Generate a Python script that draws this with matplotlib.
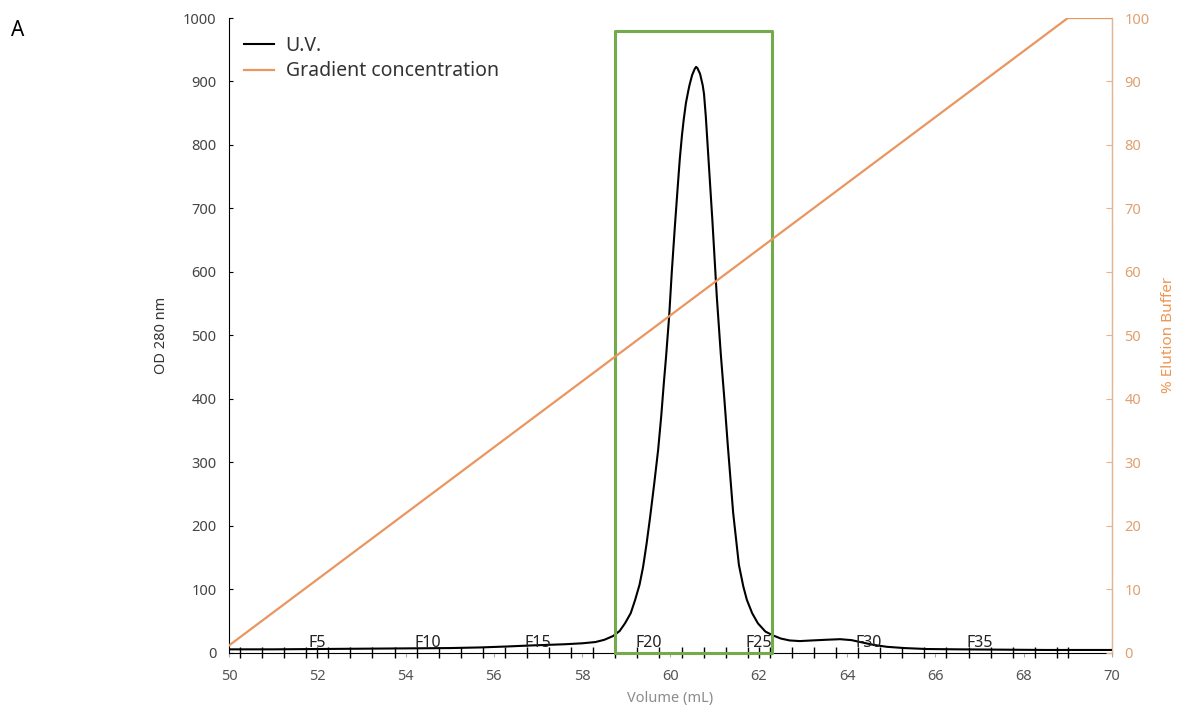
import matplotlib.pyplot as plt

plt.rcParams['font.family'] = ['Noto Sans', 'DejaVu Sans']

# UV trace (OD 280 nm)
volume_ml = [50.0, 51.0, 52.0, 53.0, 54.0, 55.0, 55.7, 56.3, 56.8, 57.2, 57.6, 58.0, 58.3,
             58.5, 58.7, 58.85, 58.97, 59.1, 59.2, 59.3, 59.38, 59.46, 59.54, 59.63, 59.72,
             59.79, 59.85, 59.9, 59.97, 60.03, 60.1, 60.16, 60.21, 60.26, 60.3, 60.35, 60.4,
             60.43, 60.49, 60.55, 60.58, 60.61, 60.67, 60.73, 60.76, 60.8, 60.85, 60.95,
             61.05, 61.14, 61.22, 61.3, 61.42, 61.55, 61.65, 61.73, 61.85, 61.98, 62.15,
             62.32, 62.5, 62.7, 62.93, 63.2, 63.5, 63.84, 64.1, 64.3, 64.6, 64.9, 65.3, 65.8,
             66.5, 67.5, 68.5, 70.0]
uv_od = [5, 5, 5.5, 6, 6.5, 7, 8, 9.5, 11, 12, 13, 14.5, 16.5,
         20, 26, 34, 46, 62, 83, 107, 135, 172, 214, 265, 319,
         372, 425, 466, 530, 600, 672, 730, 777, 815, 840, 866, 884,
         894, 910, 920, 923, 921, 912, 894, 880, 845, 790, 680,
         560, 470, 400, 325, 220, 138, 104, 83, 62, 46, 33,
         27, 22, 19, 18, 19, 20, 21, 19.5, 16.5, 12, 9, 7, 5.5,
         5, 4.5, 4, 4]

# gradient program (% elution buffer)
grad_volume = [50.0, 69.0, 70.0]
grad_pct = [1.1, 100.0, 100.0]

# fraction collector marks
fraction_marks = [50.25, 50.75, 51.25, 51.75, 52.0, 52.25, 52.75, 53.25, 53.75, 54.25, 54.75,
                  55.25, 55.75, 56.25, 56.75, 57.25, 57.75, 58.25, 58.75, 59.25, 59.75, 60.25,
                  60.75, 61.25, 61.75, 62.0, 62.25, 62.75, 63.25, 63.75, 64.25, 64.75, 65.25,
                  65.75, 66.25, 66.75, 67.25, 67.75, 68.25, 68.75, 69.0]
fraction_names = ['F5', 'F10', 'F15', 'F20', 'F25', 'F30', 'F35']
fraction_pos = [52.0, 54.5, 57.0, 59.5, 62.0, 64.5, 67.0]

# pooled fractions box
pool_start, pool_end, pool_top = 58.75, 62.3, 980

orange = '#E99660'
green = '#72AA4C'

fig = plt.figure(figsize=(11.85, 7.15), dpi=100)
ax = fig.add_axes([0.1932, 0.0874, 0.7452, 0.8874])
ax2 = ax.twinx()

ax.plot(volume_ml, uv_od, color='black', lw=1.5, label='U.V.', zorder=4)
ax2.plot(grad_volume, grad_pct, color=orange, lw=1.6, label='Gradient concentration')

ax.plot([pool_start, pool_start, pool_end, pool_end, pool_start],
        [0, pool_top, pool_top, 0, 0], color=green, lw=2.2, zorder=5, clip_on=False)

# fraction ticks across the axis
ax.vlines(fraction_marks, -9, 9, color='black', lw=1.0, clip_on=False, zorder=3)
for name, pos in zip(fraction_names, fraction_pos):
    ax.text(pos, 9, name, ha='center', va='baseline', fontsize=11.5, color='#222222', zorder=6)

ax.set_xlim(50, 70)
ax.set_ylim(0, 1000)
ax2.set_ylim(0, 100)
ax.set_xticks(range(50, 71, 2))
ax.set_yticks(range(0, 1001, 100))
ax2.set_yticks(range(0, 101, 10))

ax.spines['top'].set_visible(False)
ax2.spines['top'].set_visible(False)
ax.spines['left'].set_color('black')
ax.spines['bottom'].set_color('black')
ax2.spines['right'].set_color('#E9B48C')
ax2.spines['left'].set_visible(False)
ax2.spines['bottom'].set_visible(False)

ax.tick_params(axis='y', direction='in', length=3, labelsize=10.5, labelcolor='#444444', pad=9)
ax.tick_params(axis='x', direction='out', length=3, color='#aaaaaa', labelsize=10.5,
               labelcolor='#555555', pad=9)
ax2.tick_params(axis='y', direction='in', length=4, color='#E9B48C', labelsize=10.5,
                labelcolor='#E0A070', pad=9)

ax.set_ylabel('OD 280 nm', fontsize=10.5, color='#333333', labelpad=10)
ax.set_xlabel('Volume (mL)', fontsize=10.5, color='#8c8c8c', labelpad=5)
ax2.set_ylabel('% Elution Buffer', fontsize=11, color='#EE9550', fontweight='bold',
               labelpad=8)

h1, l1 = ax.get_legend_handles_labels()
h2, l2 = ax2.get_legend_handles_labels()
leg = ax2.legend(h1 + h2, l1 + l2, loc='upper left', bbox_to_anchor=(-0.003, 1.0),
                 frameon=False, fontsize=14, handlelength=1.55, handletextpad=0.6,
                 labelspacing=0.3)
for t in leg.get_texts():
    t.set_color('#333333')

fig.text(0.009, 0.972, 'A', fontsize=15, va='top', ha='left')

fig.savefig('out.png', dpi=100)
